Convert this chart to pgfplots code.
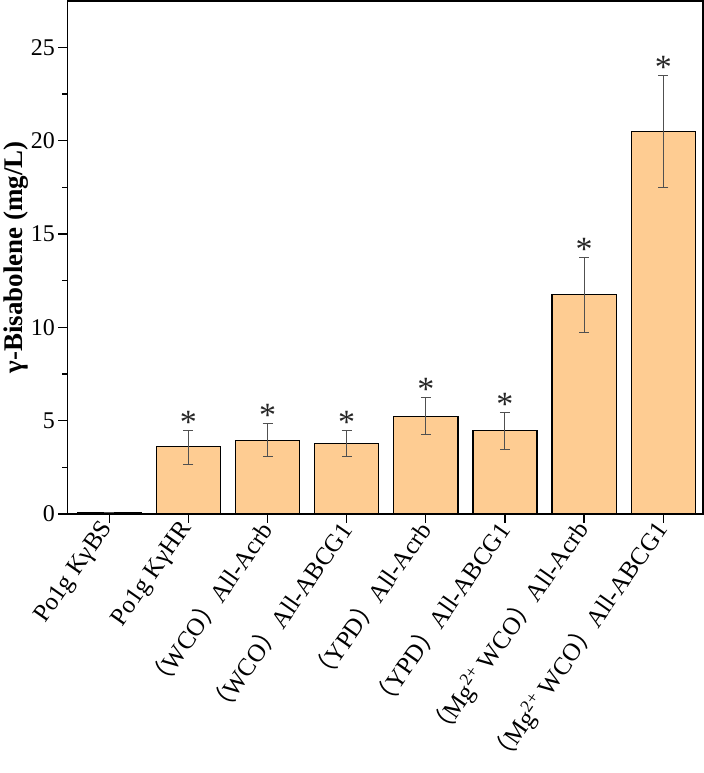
\documentclass[border=0pt]{standalone}
\usepackage{fontspec}
\setmainfont{Liberation Serif}
\newfontfamily\cjk{Noto Sans CJK SC}
\usepackage{pgfplots}
\pgfplotsset{compat=1.18}
\definecolor{barfill}{RGB}{254,204,146}
\definecolor{errgray}{RGB}{80,80,80}

\newcommand{\lp}{{\cjk （}}
\newcommand{\rp}{{\cjk ）}}

% mean, upper and lower error
\pgfplotstableread{
x  y     ep    em
0  0.08  0     0
1  3.60  0.87  0.97
2  3.95  0.92  0.89
3  3.76  0.71  0.70
4  5.24  1.02  0.99
5  4.47  0.99  1.02
6  11.75 1.98  2.02
7  20.50 3.00  3.00
}\bisab

\begin{document}
\begin{tikzpicture}[x=1bp,y=1bp]
\begin{axis}[
  scale only axis,
  width=634bp, height=512bp,
  xmin=-0.53, xmax=7.5,
  ymin=0, ymax=27.5,
  xtick={0,...,7},
  xticklabels={{Po1g KγBS},{Po1g KγHR},
    {\lp WCO\rp All-Acrb},{\lp WCO\rp All-ABCG1},
    {\lp YPD\rp All-Acrb},{\lp YPD\rp All-ABCG1},
    {\lp Mg\textsuperscript{2+} WCO\rp All-Acrb},
    {\lp Mg\textsuperscript{2+} WCO\rp All-ABCG1}},
  ytick={0,5,...,25},
  minor y tick num=1,
  xtick pos=bottom, ytick pos=left,
  tick align=outside,
  major tick length=9bp, minor tick length=5bp,
  every tick/.style={black, line width=1.3bp},
  axis line style={line width=1.5bp},
  /pgf/number format/assume math mode=true,
  yticklabel style={font=\fontsize{24}{28}\selectfont},
  xticklabel style={font=\fontsize{25}{30}\selectfont, rotate=55, anchor=east, inner sep=2bp},
  ylabel={\bfseries γ-Bisabolene (mg/L)},
  ylabel style={font=\fontsize{27}{32}\selectfont, yshift=-4bp},
]
\addplot[ybar, bar width=0.81, fill=barfill, draw=black, line width=1.3bp,
  error bars/.cd, y dir=both, y explicit,
  error bar style={errgray, line width=1bp},
  error mark options={rotate=90, mark size=5bp, errgray, line width=1bp}]
  table[x=x, y=y, y error plus=ep, y error minus=em] {\bisab};
\addplot[draw=none, mark=none, nodes near coords={*},
  every node near coord/.style={anchor=base, yshift=-3bp, text=black!85,
    font=\fontsize{34}{36}\selectfont}]
  coordinates {(1,4.47) (2,4.87) (3,4.47) (4,6.26) (5,5.46) (6,13.73) (7,23.5)};
\end{axis}
\end{tikzpicture}
\end{document}
